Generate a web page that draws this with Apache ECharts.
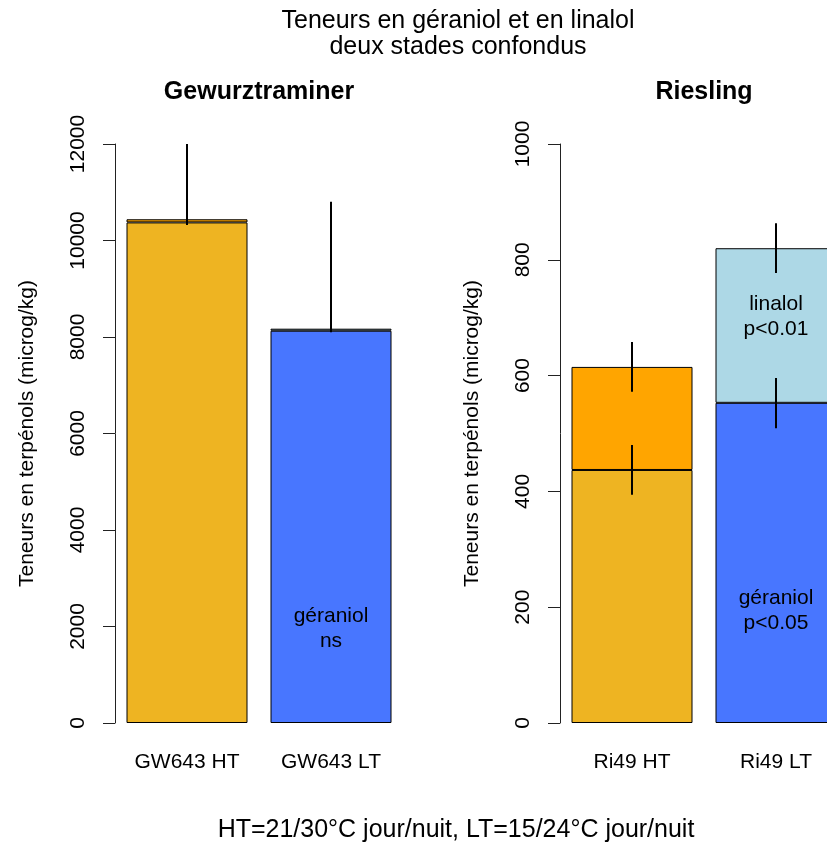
<!DOCTYPE html>
<html>
<head>
<meta charset="utf-8">
<script src="https://cdn.jsdelivr.net/npm/echarts@6/dist/echarts.min.js"></script>
<style>
  html, body { margin: 0; padding: 0; background: #fff; }
  #main { width: 827px; height: 846px; }
</style>
</head>
<body>
<div id="main"></div>
<script>
var FONT = "'Liberation Sans', Arial, sans-serif";

// Gewurztraminer
var gwCats = ['GW643 HT', 'GW643 LT'];
var gwGeraniol = [10375, 8130];
var gwLinalol = [65, 42];
var gwErrLow = [10320, 8097];
var gwErrHigh = [12000, 10804];

// Riesling
var riCats = ['Ri49 HT', 'Ri49 LT'];
var riGeraniol = [437, 553];
var riLinalol = [178, 267];
var riGerErrLow = [394, 509];
var riGerErrHigh = [480, 596];
var riLinErrLow = [572, 777];
var riLinErrHigh = [658, 863];

var gerColors = ['#EEB422', '#4876FF'];
var linColors = ['#FFA500', '#ADD8E6'];

var chart = echarts.init(document.getElementById('main'));

function noteLabel(text, pos) {
  return {
    show: true,
    formatter: text,
    position: ['50%', pos],
    align: 'center',
    verticalAlign: 'middle',
    fontFamily: FONT,
    fontSize: 21,
    lineHeight: 25,
    color: '#000'
  };
}

function barData(values, notes) {
  var out = [];
  for (var i = 0; i < values.length; i++) {
    var item = { value: values[i] };
    if (notes && notes[i]) item.label = noteLabel(notes[i][0], notes[i][1]);
    out.push(item);
  }
  return out;
}

function errData(low, high) {
  var out = [];
  for (var i = 0; i < low.length; i++) out.push([i, low[i], high[i]]);
  return out;
}

function renderErr(params, api) {
  var p1 = api.coord([api.value(0), api.value(1)]);
  var p2 = api.coord([api.value(0), api.value(2)]);
  return {
    type: 'line',
    shape: { x1: p1[0], y1: p1[1], x2: p2[0], y2: p2[1] },
    style: { stroke: '#000', lineWidth: 2 }
  };
}

function yAxis(grid, max, step) {
  return {
    type: 'value', gridIndex: grid, min: 0, max: max, interval: step,
    name: 'Teneurs en terpénols (microg/kg)',
    nameLocation: 'middle', nameRotate: 90, nameGap: 77,
    nameTextStyle: { fontFamily: FONT, fontSize: 21, color: '#000' },
    splitLine: { show: false },
    axisLine: { show: true, lineStyle: { color: '#222', width: 1 } },
    axisTick: { show: true, length: 12, lineStyle: { color: '#222' } },
    axisLabel: {
      rotate: 90, margin: 26, fontFamily: FONT, fontSize: 21, color: '#000',
      formatter: function (v) { return String(v); }
    }
  };
}

function xAxis(grid, cats) {
  return {
    type: 'category', gridIndex: grid, data: cats,
    axisLine: { show: false }, axisTick: { show: false },
    axisLabel: { margin: 29, fontFamily: FONT, fontSize: 21, color: '#000' }
  };
}

function colorBy(list) {
  return function (p) { return list[p.dataIndex]; };
}

var barStyle = function (list) {
  return { color: colorBy(list), borderColor: '#000', borderWidth: 1 };
};

var option = {
  animation: false,
  backgroundColor: '#fff',
  grid: [
    { left: 115, top: 144, width: 288, height: 579, outerBoundsMode: 'none', containLabel: false },
    { left: 560, top: 144, width: 288, height: 579, outerBoundsMode: 'none', containLabel: false }
  ],
  xAxis: [xAxis(0, gwCats), xAxis(1, riCats)],
  yAxis: [yAxis(0, 12000, 2000), yAxis(1, 1000, 200)],
  graphic: [
    { type: 'text', x: 458, y: 21, style: { text: 'Teneurs en géraniol et en linalol', font: '25px ' + FONT, fill: '#000', align: 'center', verticalAlign: 'middle' } },
    { type: 'text', x: 458, y: 47, style: { text: 'deux stades confondus', font: '25px ' + FONT, fill: '#000', align: 'center', verticalAlign: 'middle' } },
    { type: 'text', x: 259, y: 92, style: { text: 'Gewurztraminer', font: 'bold 25px ' + FONT, fill: '#000', align: 'center', verticalAlign: 'middle' } },
    { type: 'text', x: 704, y: 92, style: { text: 'Riesling', font: 'bold 25px ' + FONT, fill: '#000', align: 'center', verticalAlign: 'middle' } },
    { type: 'text', x: 456, y: 830, style: { text: 'HT=21/30°C jour/nuit, LT=15/24°C jour/nuit', font: '25px ' + FONT, fill: '#000', align: 'center', verticalAlign: 'middle' } }
  ],
  series: [
    {
      type: 'bar', name: 'géraniol', xAxisIndex: 0, yAxisIndex: 0, stack: 'gw', barWidth: 121,
      data: barData(gwGeraniol, [null, ['géraniol\nns', '76%']]),
      itemStyle: barStyle(gerColors)
    },
    {
      type: 'bar', name: 'linalol', xAxisIndex: 0, yAxisIndex: 0, stack: 'gw', barWidth: 121,
      data: barData(gwLinalol),
      itemStyle: barStyle(linColors)
    },
    {
      type: 'custom', xAxisIndex: 0, yAxisIndex: 0, renderItem: renderErr,
      data: errData(gwErrLow, gwErrHigh), z: 10
    },
    {
      type: 'bar', name: 'géraniol', xAxisIndex: 1, yAxisIndex: 1, stack: 'ri', barWidth: 121,
      data: barData(riGeraniol, [null, ['géraniol\np<0.05', '65%']]),
      itemStyle: barStyle(gerColors)
    },
    {
      type: 'bar', name: 'linalol', xAxisIndex: 1, yAxisIndex: 1, stack: 'ri', barWidth: 121,
      data: barData(riLinalol, [null, ['linalol\np<0.01', '44%']]),
      itemStyle: barStyle(linColors)
    },
    {
      type: 'custom', xAxisIndex: 1, yAxisIndex: 1, renderItem: renderErr,
      data: errData(riGerErrLow, riGerErrHigh), z: 10
    },
    {
      type: 'custom', xAxisIndex: 1, yAxisIndex: 1, renderItem: renderErr,
      data: errData(riLinErrLow, riLinErrHigh), z: 10
    }
  ]
};

chart.setOption(option);
</script>
</body>
</html>
